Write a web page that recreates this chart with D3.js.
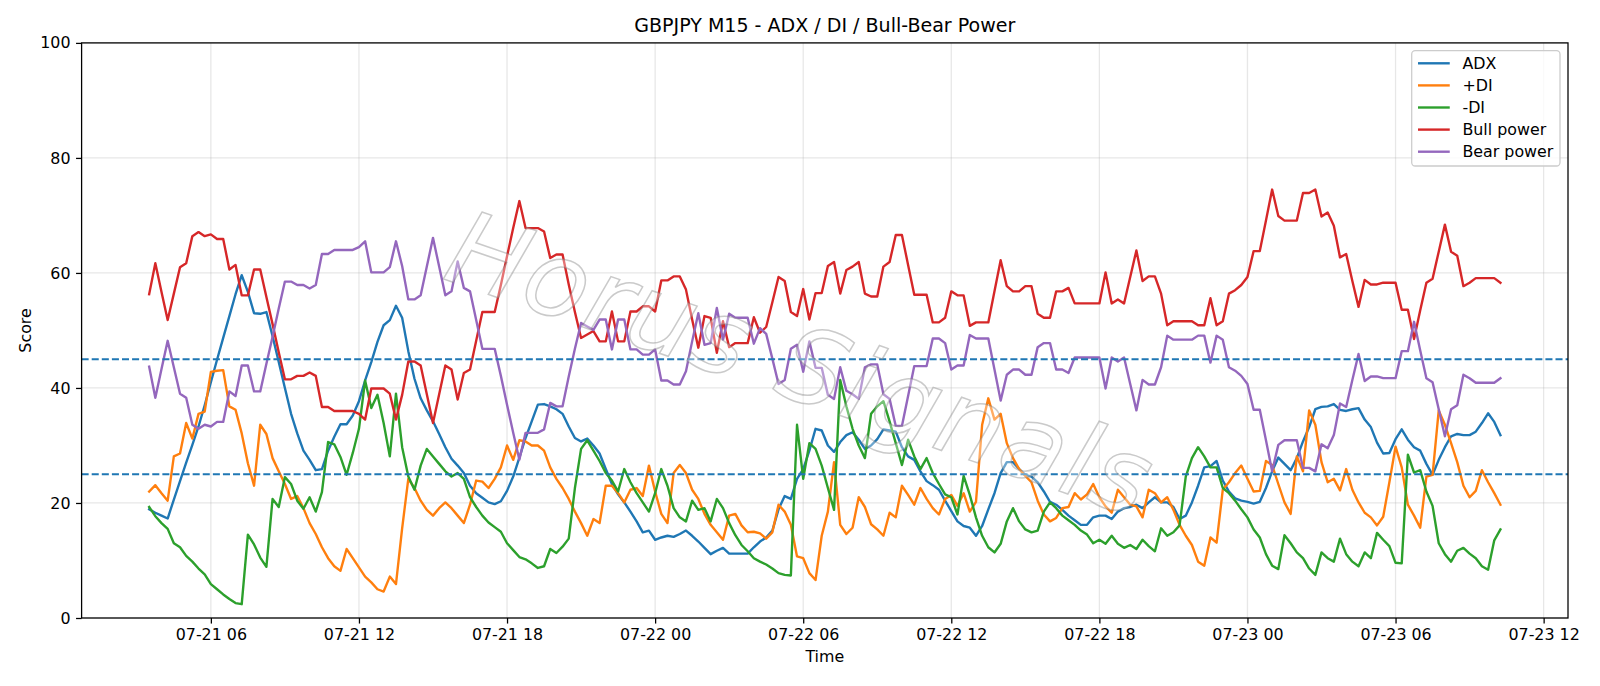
<!DOCTYPE html>
<html><head><meta charset="utf-8">
<script src="https://cdn.jsdelivr.net/npm/d3@7/dist/d3.min.js"></script>
<style>body{margin:0;background:#fff} text{font-family:"DejaVu Sans",sans-serif}</style>
</head><body><svg id="chart" width="1600" height="686"></svg>
<script>
// ---- data (M15 bars, 07-21 03:30 .. 07-23 10:15) ----
const startTime = "2025-07-21T03:30";
const stepMinutes = 15;

const adx = [18.9,18.3,17.8,17.3,20.6,23.8,27.0,30.1,33.3,37.0,41.0,44.9,48.7,52.5,56.3,59.6,56.7,53.0,52.9,53.2,
49.0,44.5,40.0,35.5,32.1,29.1,27.5,25.7,25.9,29.1,31.5,33.7,33.7,35.2,37.7,41.3,44.5,48.0,50.9,51.8,
54.3,52.2,46.4,41.6,38.2,36.1,34.2,32.0,29.7,27.7,26.5,25.2,23.0,21.7,20.9,20.1,19.8,20.3,22.1,24.6,
27.9,31.3,34.2,37.1,37.2,36.8,36.3,35.5,33.3,31.3,30.7,31.2,30.0,28.6,25.9,23.3,21.5,20.1,18.5,16.8,
14.9,15.2,13.6,14.0,14.3,14.1,14.6,15.2,14.3,13.3,12.2,11.1,11.7,12.2,11.2,11.2,11.2,11.2,12.3,13.3,
14.0,15.2,18.9,21.2,20.7,24.2,25.9,29.1,32.9,32.6,30.0,28.9,30.6,31.8,32.3,31.0,29.4,30.0,31.1,32.8,
32.6,32.4,29.7,28.1,27.5,25.5,23.8,23.1,22.3,20.4,18.6,16.8,16.0,15.7,14.3,16.0,18.9,21.7,25.2,27.1,
27.1,25.9,24.9,24.6,23.6,22.0,20.2,19.7,18.8,17.8,17.0,16.2,16.2,17.5,17.8,17.8,17.2,18.5,19.1,19.3,
19.7,19.1,20.1,21.0,20.1,20.1,19.3,17.2,17.8,20.1,23.0,26.2,26.4,27.3,23.9,22.0,20.8,20.4,20.2,19.9,
20.2,22.6,25.5,27.9,26.8,25.7,27.8,30.7,33.2,36.3,36.7,36.8,37.2,36.2,36.0,36.3,36.5,34.5,33.2,30.5,
28.6,28.7,31.1,32.8,31.0,29.7,29.1,26.8,24.9,27.5,29.7,31.6,32.0,31.8,31.8,32.4,33.9,35.6,34.1,31.8];

const plusDI = [22.0,23.1,21.7,20.4,28.1,28.6,33.9,31.2,35.5,35.9,42.8,43.0,43.1,36.8,36.2,32.1,26.9,23.0,33.6,32.0,
27.8,25.5,23.3,20.7,21.2,19.1,16.5,14.6,12.3,10.4,9.0,8.2,12.0,10.4,8.8,7.2,6.2,5.0,4.6,7.2,
5.9,15.6,24.2,22.6,20.4,18.8,17.8,19.1,20.1,19.1,17.8,16.5,19.7,23.9,23.7,22.6,24.2,26.2,30.0,27.5,
30.9,30.7,30.0,30.0,29.1,26.2,24.2,22.6,20.7,18.5,16.5,14.3,17.2,16.5,23.0,23.0,21.7,20.1,22.3,22.6,
21.2,26.5,22.0,18.1,16.5,25.2,26.6,25.2,22.3,20.7,18.1,16.2,14.9,13.6,17.8,18.1,16.1,14.9,15.0,14.7,
13.8,14.9,19.7,18.5,16.2,10.7,10.4,7.8,6.6,14.3,18.5,27.1,16.2,14.6,15.7,21.0,19.3,16.3,15.4,14.3,
18.3,17.5,23.0,21.4,19.7,22.6,20.7,19.1,18.0,20.7,21.4,19.5,21.7,18.5,20.2,33.6,38.2,34.5,35.5,30.4,
27.8,25.9,24.7,23.6,20.4,18.0,16.8,17.4,19.1,19.3,21.7,20.6,21.5,23.3,21.0,19.4,18.3,22.3,21.0,19.7,
19.4,17.5,22.3,21.7,20.1,21.0,18.8,16.2,14.3,12.7,9.8,9.1,14.0,13.1,22.3,23.6,25.2,26.5,24.2,22.0,
22.1,27.3,26.6,23.3,20.1,18.1,28.1,25.5,36.1,33.6,27.1,23.6,24.2,22.2,25.9,22.3,20.1,18.3,17.5,16.1,
17.6,23.6,29.8,26.2,19.7,17.8,15.7,24.6,24.9,36.1,33.6,30.4,27.1,23.0,21.0,22.1,25.7,23.6,21.7,19.7];

const minusDI = [19.3,17.7,16.5,15.5,13.0,12.3,10.8,9.8,8.6,7.6,5.9,5.0,4.1,3.3,2.6,2.4,14.5,12.8,10.5,8.9,
20.7,19.3,24.5,23.3,20.4,19.0,21.0,18.5,21.9,30.6,30.2,28.0,24.9,28.7,32.9,41.3,36.5,38.8,33.9,28.1,
39.0,29.7,24.6,22.3,26.5,29.4,28.1,26.8,25.5,24.6,25.2,24.2,21.0,19.3,17.8,16.6,15.8,15.0,13.0,11.8,
10.6,10.2,9.5,8.7,9.0,12.0,11.3,12.4,13.8,22.6,29.4,30.9,29.1,27.3,25.2,23.9,22.0,25.9,23.6,21.7,
20.1,18.5,21.7,25.9,23.0,19.1,17.5,16.8,20.4,18.8,19.1,16.8,20.7,19.1,16.5,14.4,12.7,11.6,10.4,9.8,
9.3,8.6,7.8,7.5,7.4,33.6,24.2,30.4,29.4,26.5,22.6,18.8,41.4,36.8,32.9,30.0,27.8,35.5,36.8,37.7,
34.2,30.4,26.6,31.0,28.1,25.9,27.8,25.2,23.3,21.5,21.0,18.0,24.7,21.4,17.5,14.3,12.3,11.4,12.9,16.8,
19.1,16.8,15.4,14.9,15.2,18.5,20.1,19.1,17.8,17.0,16.2,15.2,14.5,13.0,13.6,12.9,14.3,12.9,12.2,12.7,
12.0,13.6,12.5,11.6,15.6,14.3,14.9,16.1,24.6,27.8,29.7,28.1,26.2,26.2,22.6,21.7,20.4,18.9,17.5,15.4,
14.0,11.1,9.1,8.5,14.4,13.0,11.4,10.4,8.6,7.5,11.4,10.4,9.8,13.8,11.1,9.8,9.0,11.4,10.4,14.8,
13.6,12.5,9.6,9.5,28.4,25.3,25.7,22.0,19.5,13.0,11.1,9.8,11.7,12.2,11.2,10.4,9.0,8.4,13.5,15.4];

const bullPower = [56.3,61.7,56.7,51.8,56.4,61.0,61.7,66.4,67.1,66.4,66.7,65.9,65.9,60.6,61.4,56.1,56.1,60.6,60.6,55.8,
51.1,46.2,41.5,41.5,42.1,42.1,42.7,42.1,36.7,36.7,36.0,36.0,36.0,36.0,35.5,34.5,39.9,39.9,39.9,39.0,
34.5,38.8,44.6,44.6,43.9,38.9,33.9,38.9,43.9,43.2,38.0,42.6,43.2,48.2,53.2,53.2,53.2,57.9,62.9,67.8,
72.5,67.8,67.8,67.8,67.2,62.6,63.2,63.2,58.0,53.2,48.7,49.3,49.9,48.1,48.1,53.3,48.1,48.1,53.3,53.3,
54.2,54.2,53.3,58.7,58.7,59.4,59.4,57.1,51.9,47.0,52.5,52.2,46.1,51.6,47.1,47.8,47.8,47.8,52.3,49.6,
50.6,54.9,59.3,58.6,53.2,52.5,57.2,51.9,56.5,56.5,61.2,61.9,56.4,60.5,61.1,61.9,56.4,55.9,55.9,61.1,
61.9,66.6,66.6,61.4,56.2,56.2,56.2,51.4,51.4,52.2,56.8,56.1,56.1,50.8,51.4,51.4,51.4,56.8,62.2,57.7,
56.8,56.8,57.7,57.7,52.9,52.2,52.2,56.8,56.8,57.4,54.7,54.7,54.7,54.7,54.7,60.1,54.7,55.4,54.7,59.3,
63.9,58.6,59.4,59.4,56.4,50.9,51.6,51.6,51.6,51.6,50.9,50.9,55.6,50.9,51.6,56.4,57.0,57.9,59.3,63.8,
63.8,69.1,74.5,69.9,69.1,69.1,69.1,73.9,73.9,74.5,69.8,70.5,68.2,62.7,63.3,58.6,54.1,58.8,58.0,58.0,
58.3,58.3,58.3,53.6,53.6,48.5,53.5,58.3,59.0,63.7,68.4,63.7,63.0,57.7,58.3,59.1,59.1,59.1,59.1,58.3];

const bearPower = [43.7,38.3,43.3,48.2,43.6,39.0,38.3,33.6,32.9,33.6,33.3,34.1,34.1,39.4,38.6,43.9,43.9,39.4,39.4,44.2,
48.9,53.8,58.5,58.5,57.9,57.9,57.3,57.9,63.3,63.3,64.0,64.0,64.0,64.0,64.5,65.5,60.1,60.1,60.1,61.0,
65.5,61.2,55.4,55.4,56.1,61.1,66.1,61.1,56.1,56.8,62.0,57.4,56.8,51.8,46.8,46.8,46.8,42.1,37.1,32.2,
27.5,32.2,32.2,32.2,32.8,37.4,36.8,36.8,42.0,46.8,51.3,50.7,50.1,51.9,51.9,46.7,51.9,51.9,46.7,46.7,
45.8,45.8,46.7,41.3,41.3,40.6,40.6,42.9,48.1,53.0,47.5,47.8,53.9,48.4,52.9,52.2,52.2,52.2,47.7,50.4,
49.4,45.1,40.7,41.4,46.8,47.5,42.8,48.1,43.5,43.5,38.8,38.1,43.6,39.5,38.9,38.1,43.6,44.1,44.1,38.9,
38.1,33.4,33.4,38.6,43.8,43.8,43.8,48.6,48.6,47.8,43.2,43.9,43.9,49.2,48.6,48.6,48.6,43.2,37.8,42.3,
43.2,43.2,42.3,42.3,47.1,47.8,47.8,43.2,43.2,42.6,45.3,45.3,45.3,45.3,45.3,39.9,45.3,44.6,45.3,40.7,
36.1,41.4,40.6,40.6,43.6,49.1,48.4,48.4,48.4,48.4,49.1,49.1,44.4,49.1,48.4,43.6,43.0,42.1,40.7,36.2,
36.2,30.9,25.5,30.1,30.9,30.9,30.9,26.1,26.1,25.5,30.2,29.5,31.8,37.3,36.7,41.4,45.9,41.2,42.0,42.0,
41.7,41.7,41.7,46.4,46.4,51.5,46.5,41.7,41.0,36.3,31.6,36.3,37.0,42.3,41.7,40.9,40.9,40.9,40.9,41.7];

const seriesNames = ["ADX", "+DI", "-DI", "Bull power", "Bear power"];
const seriesColors = ["#1f77b4", "#ff7f0e", "#2ca02c", "#d62728", "#9467bd"];
const xTickLabels = ["07-21 06","07-21 12","07-21 18","07-22 00","07-22 06","07-22 12","07-22 18","07-23 00","07-23 06","07-23 12"];
const yTicks = [0, 20, 40, 60, 80, 100];
const refLevels = [45, 25];
const titleText = "GBPJPY M15 - ADX / DI / Bull-Bear Power";
const watermarkText = "Horus Signals";

// ---- layout ----
const PT = 1600 / 14 / 72;           // px per point (fig 14in wide)
const M = {left: 81.6, right: 1568, top: 42.9, bottom: 618};
const svg = d3.select("#chart");

const parseT = d3.timeParse("%Y-%m-%dT%H:%M");
const t0 = parseT(startTime);
const times = adx.map((_, i) => new Date(t0.getTime() + i * stepMinutes * 60000));
const tMin = +times[0], tMax = +times[times.length - 1];
const padT = (tMax - tMin) * 0.05;
const x = d3.scaleTime().domain([new Date(tMin - padT), new Date(tMax + padT)]).range([M.left, M.right]);
const y = d3.scaleLinear().domain([0, 100]).range([M.bottom, M.top]);
const parseTick = d3.timeParse("%Y-%m-%d %H");
const xTickVals = xTickLabels.map(s => parseTick("2025-" + s));

const fs = 10 * PT;
// grid
const grid = svg.append("g").attr("stroke", "#b0b0b0").attr("stroke-opacity", 0.3).attr("stroke-width", 0.8 * PT);
grid.selectAll(".gx").data(xTickVals).join("line")
  .attr("x1", d => x(d)).attr("x2", d => x(d)).attr("y1", M.top).attr("y2", M.bottom);
grid.selectAll(".gy").data(yTicks).join("line")
  .attr("x1", M.left).attr("x2", M.right).attr("y1", d => y(d)).attr("y2", d => y(d));

// series
const allSeries = [adx, plusDI, minusDI, bullPower, bearPower];
const line = d3.line().x((d, i) => x(times[i])).y(d => y(d));
svg.append("defs").append("clipPath").attr("id", "clip").append("rect")
  .attr("x", M.left).attr("y", M.top).attr("width", M.right - M.left).attr("height", M.bottom - M.top);
const plot = svg.append("g").attr("clip-path", "url(#clip)");
allSeries.forEach((s, k) => {
  plot.append("path").datum(s).attr("d", line).attr("fill", "none")
    .attr("stroke", seriesColors[k]).attr("stroke-width", 1.5 * PT)
    .attr("stroke-linejoin", "round").attr("stroke-linecap", "square");
});
// reference lines
plot.selectAll(".ref").data(refLevels).join("line")
  .attr("x1", M.left).attr("x2", M.right).attr("y1", d => y(d)).attr("y2", d => y(d))
  .attr("stroke", "#1f77b4").attr("stroke-width", 1.2 * PT)
  .attr("stroke-dasharray", `${3.7 * 1.2 * PT},${1.6 * 1.2 * PT}`);

// watermark
svg.append("text").text(watermarkText)
  .attr("transform", "translate(801,364) rotate(19)")
  .attr("text-anchor", "middle").attr("dominant-baseline", "central")
  .style("font-size", "104px").style("font-style", "italic").style("letter-spacing", "2px")
  .attr("fill", "#ffffff").attr("fill-opacity", 0.35)
  .attr("stroke", "#808080").attr("stroke-opacity", 0.42).attr("stroke-width", 1.5);

// axes
const xAxis = d3.axisBottom(x).tickValues(xTickVals).tickFormat(d3.timeFormat("%m-%d %H"))
  .tickSize(3.5 * PT).tickPadding(3.5 * PT).tickSizeOuter(0);
const gx = svg.append("g").attr("transform", `translate(0,${M.bottom})`).call(xAxis);
const yAxis = d3.axisLeft(y).tickValues(yTicks).tickFormat(d3.format("d"))
  .tickSize(3.5 * PT).tickPadding(3.5 * PT).tickSizeOuter(0);
const gy = svg.append("g").attr("transform", `translate(${M.left},0)`).call(yAxis);
[gx, gy].forEach(g => {
  g.select(".domain").remove();
  g.selectAll(".tick line").attr("stroke", "#000").attr("stroke-width", 0.8 * PT);
  g.selectAll(".tick text").attr("fill", "#000").style("font-size", fs + "px").style("font-family", "DejaVu Sans");
});
// spines
svg.append("rect").attr("x", M.left).attr("y", M.top).attr("width", M.right - M.left).attr("height", M.bottom - M.top)
  .attr("fill", "none").attr("stroke", "#000").attr("stroke-width", 0.8 * PT);

// labels
svg.append("text").text(titleText).attr("x", (M.left + M.right) / 2).attr("y", M.top - 6 * PT - 1)
  .attr("text-anchor", "middle").style("font-size", 12 * PT + "px");
svg.append("text").text("Time").attr("x", (M.left + M.right) / 2).attr("y", 662)
  .attr("text-anchor", "middle").style("font-size", fs + "px");
svg.append("text").text("Score").attr("transform", `translate(31,${(M.top + M.bottom) / 2}) rotate(-90)`)
  .attr("text-anchor", "middle").style("font-size", fs + "px");

// legend
const lg = svg.append("g");
const lgX = 1411.7, lgY = 50.7, lgW = 148.3, lgH = 115.3;
lg.append("rect").attr("x", lgX).attr("y", lgY).attr("width", lgW).attr("height", lgH).attr("rx", 3.5)
  .attr("fill", "#fff").attr("fill-opacity", 0.8).attr("stroke", "#cccccc").attr("stroke-width", 0.8 * PT);
seriesNames.forEach((name, k) => {
  const cy = 63.3 + k * 22.1;
  lg.append("line").attr("x1", lgX + 6.3).attr("x2", lgX + 6.3 + 2 * fs).attr("y1", cy).attr("y2", cy)
    .attr("stroke", seriesColors[k]).attr("stroke-width", 1.5 * PT);
  lg.append("text").text(name).attr("x", lgX + 6.3 + 2.8 * fs).attr("y", cy).attr("dy", "0.36em")
    .style("font-size", fs + "px");
});
</script></body></html>
